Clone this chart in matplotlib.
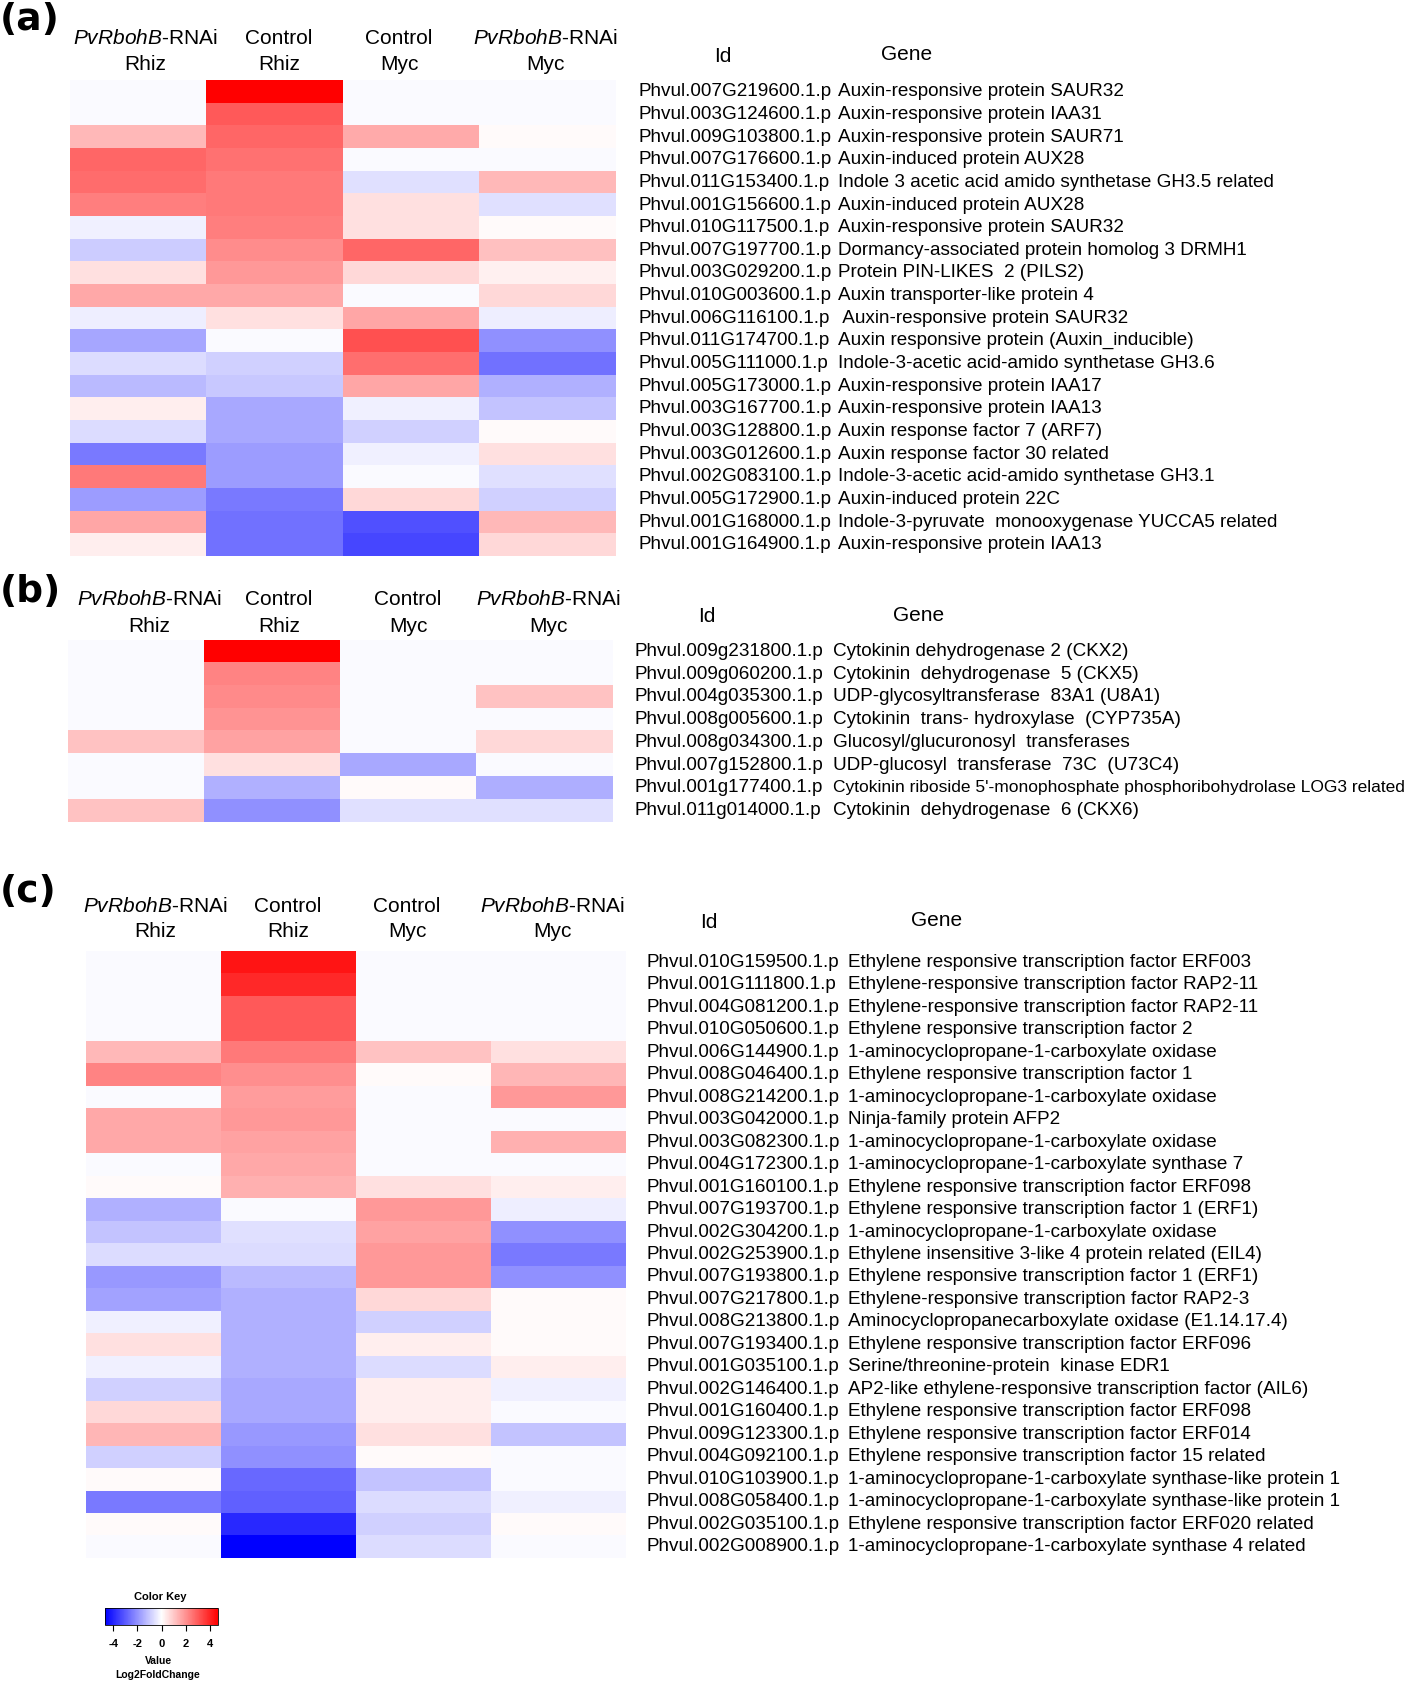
import numpy as np
import matplotlib
matplotlib.use("Agg")
import matplotlib.pyplot as plt
from matplotlib.colors import LinearSegmentedColormap, Normalize
from matplotlib.transforms import blended_transform_factory
from matplotlib.cm import ScalarMappable

plt.rcParams['font.family'] = ['Liberation Sans', 'DejaVu Sans']
plt.rcParams['mathtext.fontset'] = 'custom'
plt.rcParams['mathtext.rm'] = 'Liberation Sans'
plt.rcParams['mathtext.it'] = 'Liberation Sans:italic'

# ---------------- data ----------------
conditions_top = [r'$\mathit{PvRbohB}$-RNAi', 'Control', 'Control', r'$\mathit{PvRbohB}$-RNAi']
conditions_bottom = ['Rhiz', 'Rhiz', 'Myc', 'Myc']

a_ids = ["Phvul.007G219600.1.p", "Phvul.003G124600.1.p", "Phvul.009G103800.1.p", "Phvul.007G176600.1.p",
         "Phvul.011G153400.1.p", "Phvul.001G156600.1.p", "Phvul.010G117500.1.p", "Phvul.007G197700.1.p",
         "Phvul.003G029200.1.p", "Phvul.010G003600.1.p", "Phvul.006G116100.1.p", "Phvul.011G174700.1.p",
         "Phvul.005G111000.1.p", "Phvul.005G173000.1.p", "Phvul.003G167700.1.p", "Phvul.003G128800.1.p",
         "Phvul.003G012600.1.p", "Phvul.002G083100.1.p", "Phvul.005G172900.1.p", "Phvul.001G168000.1.p",
         "Phvul.001G164900.1.p"]
a_genes = ["Auxin-responsive protein SAUR32", "Auxin-responsive protein IAA31", "Auxin-responsive protein SAUR71",
           "Auxin-induced protein AUX28", "Indole 3 acetic acid amido synthetase GH3.5 related",
           "Auxin-induced protein AUX28", "Auxin-responsive protein SAUR32",
           "Dormancy-associated protein homolog 3 DRMH1", "Protein PIN-LIKES  2 (PILS2)",
           "Auxin transporter-like protein 4", " Auxin-responsive protein SAUR32",
           "Auxin responsive protein (Auxin_inducible)", "Indole-3-acetic acid-amido synthetase GH3.6",
           "Auxin-responsive protein IAA17", "Auxin-responsive protein IAA13", "Auxin response factor 7 (ARF7)",
           "Auxin response factor 30 related", "Indole-3-acetic acid-amido synthetase GH3.1",
           "Auxin-induced protein 22C", "Indole-3-pyruvate  monooxygenase YUCCA5 related",
           "Auxin-responsive protein IAA13"]
a_rnai_rhiz = [-0.1, -0.1, 1.3, 2.8, 2.7, 2.35, -0.28, -0.94, 0.57, 1.6, -0.33, -1.65, -0.65, -1.25, 0.33,
               -0.65, -2.43, 2.43, -1.82, 1.65, 0.33]
a_ctrl_rhiz = [4.7, 3.04, 2.8, 2.6, 2.45, 2.45, 2.35, 2.1, 1.88, 1.6, 0.57, -0.1, -0.88, -1.0, -1.6,
               -1.6, -1.82, -1.82, -2.43, -2.6, -2.6]
a_ctrl_myc = [-0.1, -0.1, 1.57, -0.1, -0.57, 0.57, 0.57, 2.8, 0.72, -0.1, 1.65, 3.2, 2.67, 1.65, -0.28,
              -0.87, -0.28, -0.1, 0.72, -3.2, -3.4]
a_rnai_myc = [-0.1, -0.1, 0.1, -0.1, 1.3, -0.57, 0.1, 1.16, 0.28, 0.72, -0.33, -2.05, -2.6, -1.45, -1.08,
              0.1, 0.57, -0.57, -0.87, 1.3, 0.72]

b_ids = ["Phvul.009g231800.1.p", "Phvul.009g060200.1.p", "Phvul.004g035300.1.p", "Phvul.008g005600.1.p",
         "Phvul.008g034300.1.p", "Phvul.007g152800.1.p", "Phvul.001g177400.1.p", "Phvul.011g014000.1.p"]
b_genes = ["Cytokinin dehydrogenase 2 (CKX2)", "Cytokinin  dehydrogenase  5 (CKX5)",
           "UDP-glycosyltransferase  83A1 (U8A1)", "Cytokinin  trans- hydroxylase  (CYP735A)",
           "Glucosyl/glucuronosyl  transferases", "UDP-glucosyl  transferase  73C  (U73C4)",
           "Cytokinin riboside 5'-monophosphate phosphoribohydrolase LOG3 related",
           "Cytokinin  dehydrogenase  6 (CKX6)"]
b_rnai_rhiz = [-0.1, -0.1, -0.1, -0.1, 1.12, -0.1, -0.1, 1.12]
b_ctrl_rhiz = [4.7, 2.25, 2.15, 1.95, 1.7, 0.57, -1.45, -2.05]
b_ctrl_myc = [-0.1, -0.1, -0.1, -0.1, -0.1, -1.6, 0.1, -0.57]
b_rnai_myc = [-0.1, -0.1, 1.12, -0.1, 0.72, -0.1, -1.48, -0.57]

c_ids = ["Phvul.010G159500.1.p", "Phvul.001G111800.1.p", "Phvul.004G081200.1.p", "Phvul.010G050600.1.p",
         "Phvul.006G144900.1.p", "Phvul.008G046400.1.p", "Phvul.008G214200.1.p", "Phvul.003G042000.1.p",
         "Phvul.003G082300.1.p", "Phvul.004G172300.1.p", "Phvul.001G160100.1.p", "Phvul.007G193700.1.p",
         "Phvul.002G304200.1.p", "Phvul.002G253900.1.p", "Phvul.007G193800.1.p", "Phvul.007G217800.1.p",
         "Phvul.008G213800.1.p", "Phvul.007G193400.1.p", "Phvul.001G035100.1.p", "Phvul.002G146400.1.p",
         "Phvul.001G160400.1.p", "Phvul.009G123300.1.p", "Phvul.004G092100.1.p", "Phvul.010G103900.1.p",
         "Phvul.008G058400.1.p", "Phvul.002G035100.1.p", "Phvul.002G008900.1.p"]
c_genes = ["Ethylene responsive transcription factor ERF003", "Ethylene-responsive transcription factor RAP2-11",
           "Ethylene-responsive transcription factor RAP2-11", "Ethylene responsive transcription factor 2",
           "1-aminocyclopropane-1-carboxylate oxidase", "Ethylene responsive transcription factor 1",
           "1-aminocyclopropane-1-carboxylate oxidase", "Ninja-family protein AFP2",
           "1-aminocyclopropane-1-carboxylate oxidase", "1-aminocyclopropane-1-carboxylate synthase 7",
           "Ethylene responsive transcription factor ERF098", "Ethylene responsive transcription factor 1 (ERF1)",
           "1-aminocyclopropane-1-carboxylate oxidase", "Ethylene insensitive 3-like 4 protein related (EIL4)",
           "Ethylene responsive transcription factor 1 (ERF1)", "Ethylene-responsive transcription factor RAP2-3",
           "Aminocyclopropanecarboxylate oxidase (E1.14.17.4)", "Ethylene responsive transcription factor ERF096",
           "Serine/threonine-protein  kinase EDR1", "AP2-like ethylene-responsive transcription factor (AIL6)",
           "Ethylene responsive transcription factor ERF098", "Ethylene responsive transcription factor ERF014",
           "Ethylene responsive transcription factor 15 related",
           "1-aminocyclopropane-1-carboxylate synthase-like protein 1",
           "1-aminocyclopropane-1-carboxylate synthase-like protein 1",
           "Ethylene responsive transcription factor ERF020 related",
           "1-aminocyclopropane-1-carboxylate synthase 4 related"]
c_rnai_rhiz = [-0.1, -0.1, -0.1, -0.1, 1.3, 2.25, -0.1, 1.6, 1.6, -0.1, 0.1, -1.45, -1.08, -0.65, -1.88,
               -1.7, -0.28, 0.57, -0.28, -0.87, 0.72, 1.35, -0.87, 0.1, -2.43, 0.1, -0.1]
c_ctrl_rhiz = [4.3, 3.93, 3.04, 3.04, 2.45, 2.06, 1.82, 1.88, 1.7, 1.6, 1.45, -0.1, -0.57, -0.65, -1.25,
               -1.45, -1.45, -1.45, -1.45, -1.6, -1.6, -1.88, -2.05, -2.78, -2.93, -3.96, -4.7]
c_ctrl_myc = [-0.1, -0.1, -0.1, -0.1, 1.12, 0.1, -0.1, -0.1, -0.1, -0.1, 0.57, 1.88, 1.7, 1.88, 1.88,
              0.72, -0.87, 0.33, -0.65, 0.33, 0.33, 0.57, 0.1, -1.08, -0.65, -0.87, -0.65]
c_rnai_myc = [-0.1, -0.1, -0.1, -0.1, 0.57, 1.35, 1.9, -0.1, 1.45, -0.1, 0.33, -0.33, -2.05, -2.43, -2.05,
              0.1, 0.1, 0.1, 0.33, -0.28, -0.1, -1.08, -0.1, -0.1, -0.28, 0.1, -0.1]

key_ticks = [-4, -2, 0, 2, 4]
key_limit = 4.7

# ---------------- figure ----------------
W, H = 1418, 1685
fig = plt.figure(figsize=(W / 100, H / 100), dpi=100)
cmap = LinearSegmentedColormap.from_list('bwr_key', ['#0000FF', '#FFFFFF', '#FF0000'])
norm = Normalize(vmin=-key_limit, vmax=key_limit)


def fx(x):
    return x / W


def fy(y):
    return 1 - y / H


def panel(label, label_y, box, ids, genes, cols, head_y, head_x, idhdr, genehdr, id_x, gene_x,
          fs=13.6, gene_sizes=None):
    left, right, top, bottom = box
    ax = fig.add_axes([fx(left), fy(bottom), fx(right) - fx(left), (bottom - top) / H])
    data = np.array(cols).T
    ax.imshow(data, cmap=cmap, norm=norm, aspect='auto', interpolation='nearest')
    ax.axis('off')
    fig.text(fx(0), fy(label_y), label, fontsize=27, fontweight='bold', ha='left', va='center',
             family='DejaVu Sans')
    for j in range(4):
        fig.text(fx(head_x[j]), fy(head_y[0]), conditions_top[j], fontsize=15, ha='center', va='center')
        fig.text(fx(head_x[j]), fy(head_y[1]), conditions_bottom[j], fontsize=15, ha='center', va='center')
    fig.text(fx(idhdr[0]), fy(idhdr[1]), 'Id', fontsize=15, ha='center', va='center')
    fig.text(fx(genehdr[0]), fy(genehdr[1]), 'Gene', fontsize=15, ha='center', va='center')
    tr = blended_transform_factory(fig.transFigure, ax.transData)
    for i, (gid, gname) in enumerate(zip(ids, genes)):
        ax.text(fx(id_x), i, gid, transform=tr, fontsize=fs, ha='left', va='center')
        gs = fs if gene_sizes is None else gene_sizes[i]
        ax.text(fx(gene_x), i, gname, transform=tr, fontsize=gs, ha='left', va='center')
    return ax


panel('(a)', 20, (70, 616, 80.5, 556), a_ids, a_genes,
      [a_rnai_rhiz, a_ctrl_rhiz, a_ctrl_myc, a_rnai_myc],
      (39, 65), (145, 279, 399, 545), (723, 56), (907, 54), 638, 838)

b_sizes = [13.6] * len(b_genes)
b_sizes[6] = 12.5
panel('(b)', 592, (68, 613, 640, 822), b_ids, b_genes,
      [b_rnai_rhiz, b_ctrl_rhiz, b_ctrl_myc, b_rnai_myc],
      (599, 626), (149, 279, 408, 548), (707, 617), (919, 615), 635, 833, fs=13.6, gene_sizes=b_sizes)

panel('(c)', 892, (86, 626, 951, 1558), c_ids, c_genes,
      [c_rnai_rhiz, c_ctrl_rhiz, c_ctrl_myc, c_rnai_myc],
      (906, 931), (155, 288, 407, 552), (709, 922), (937, 920), 647, 848)

# ---------------- colour key ----------------
cax = fig.add_axes([fx(105), fy(1625), fx(218) - fx(105), (1625 - 1608) / H])
cb = fig.colorbar(ScalarMappable(norm=norm, cmap=cmap), cax=cax, orientation='horizontal', ticks=key_ticks)
cb.outline.set_linewidth(0.6)
cax.tick_params(labelsize=8, length=4, width=0.8, pad=6)
cax.set_xticklabels([str(t) for t in key_ticks], fontweight='bold')
fig.text(fx(160), fy(1597), 'Color Key', fontsize=8, ha='center', va='center', fontweight='bold')
fig.text(fx(158), fy(1661), 'Value', fontsize=7.5, ha='center', va='center', fontweight='bold')
fig.text(fx(158), fy(1675), 'Log2FoldChange', fontsize=7.5, ha='center', va='center', fontweight='bold')

fig.savefig('out.png', dpi=100)
